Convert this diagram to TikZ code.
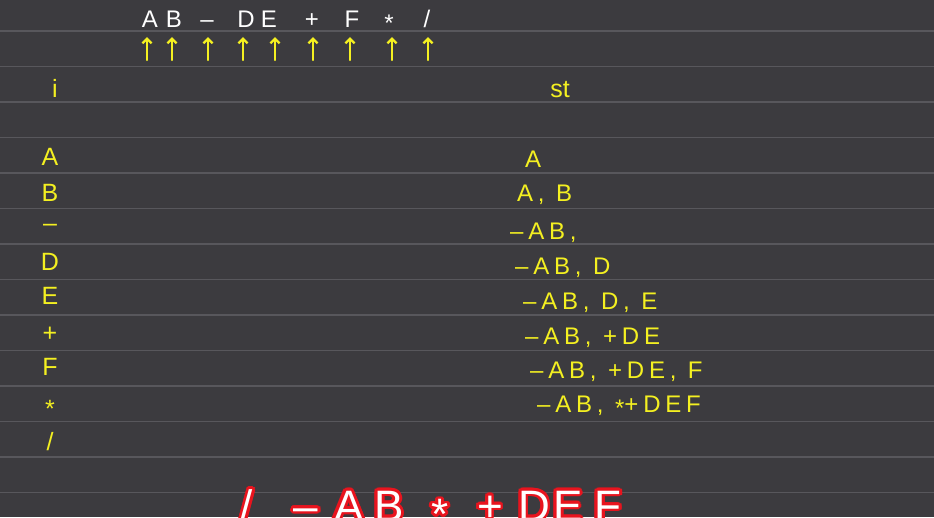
\documentclass[tikz,border=0pt]{standalone}
\usepackage{fontspec}
\setmainfont{Liberation Sans}
\newfontfamily\chalkwide[LetterSpace=20]{Liberation Sans}
\usetikzlibrary{arrows.meta}
\definecolor{BoardGrey}{HTML}{3C3B3F}
\definecolor{RuleGrey}{HTML}{58575C}
\definecolor{ChalkYellow}{HTML}{F4F021}
\definecolor{GlowRed}{HTML}{E8141E}
\newcommand\midast{\raisebox{-0.2em}{*}}
\newcommand\slashch{/}
\newcommand\glowch[1]{%
  \rlap{\color{GlowRed}\foreach \g in {0,22.5,...,337.5}{%
    \rlap{\hspace*{\fpeval{2.8*cosd(\g)}pt}\raisebox{\fpeval{2.8*sind(\g)}pt}{#1}}%
    \rlap{\hspace*{\fpeval{1.4*cosd(\g)}pt}\raisebox{\fpeval{1.4*sind(\g)}pt}{#1}}}}%
  #1}

\begin{document}
\begin{tikzpicture}[x=1pt,y=-1pt,
  rule/.style={RuleGrey,line width=1.6pt},
  tok/.style={text=white,font=\fontsize{24}{24}\selectfont,inner sep=0pt,
              anchor=base,text depth=0pt},
  uparr/.style={-{Straight Barb[length=4.5pt,width=9pt]},ChalkYellow,
                line width=2.2pt,line cap=round,shorten >=10pt},
  lbl/.style={text=ChalkYellow,font=\fontsize{25}{25}\selectfont,inner sep=0pt,anchor=base},
  cell/.style={text=ChalkYellow,font=\chalkwide\fontsize{24}{24}\selectfont,
               inner sep=0pt,anchor=base west},
  res/.style={text=white,font=\fontsize{44}{44}\selectfont,inner sep=0pt,anchor=base},
]
\fill[BoardGrey] (0,0) rectangle (934,517);
\useasboundingbox (0,0) rectangle (934,517);
\foreach \k in {0,...,13}
  \draw[rule] (0,31+35.5*\k) -- (934,31+35.5*\k);

% scanned expression
\foreach \n/\x/\t in {1/150/A,2/174/B,3/207/–,4/246/D,5/269/E,6/312/+,7/352/F,8/389/\midast,9/427/\slashch}
  \node[tok] (in\n) at (\x,27) {\t};
\foreach \n/\x in {1/147,2/172,3/208,4/243,5/275,6/313,7/350,8/392,9/428} {
  \coordinate (b\n) at (\x,60);
  \draw[uparr] (b\n) -- (b\n |- in\n.south);
}

% headers
\node[lbl] (ihead) at (55,97) {i};
\node[lbl] (sthead) at (560,97) {st};

% scanned symbol
\foreach \n/\y/\t in {1/165/A,2/201/B,3/231/–,4/270/D,5/304/E,6/341/+,7/375/F,8/412/\midast,9/450/\slashch}
  \node[lbl] (cur\n) at (50,\y) {\t};

% stack
\node[cell] (st1) at (525,167) {A};
\node[cell] (st2) at (517,201) {A, B};
\node[cell] (st3) at (510,239) {–AB,};
\node[cell] (st4) at (515,274) {–AB, D};
\node[cell] (st5) at (523,309) {–AB, D, E};
\node[cell] (st6) at (525,344) {–AB, +DE};
\node[cell] (st7) at (530,378) {–AB, +DE, F};
\node[cell] (st8) at (537,412) {–AB, \midast+DEF};

% result
\foreach \n/\x/\t in {1/247/\slashch,2/306/–,3/349/A,4/389/B,5/440/\midast,6/490/+,7/534/D,8/568/E,9/608/F}
  \node[res] (out\n) at (\x,521) {\glowch{\t}};
\end{tikzpicture}
\end{document}
